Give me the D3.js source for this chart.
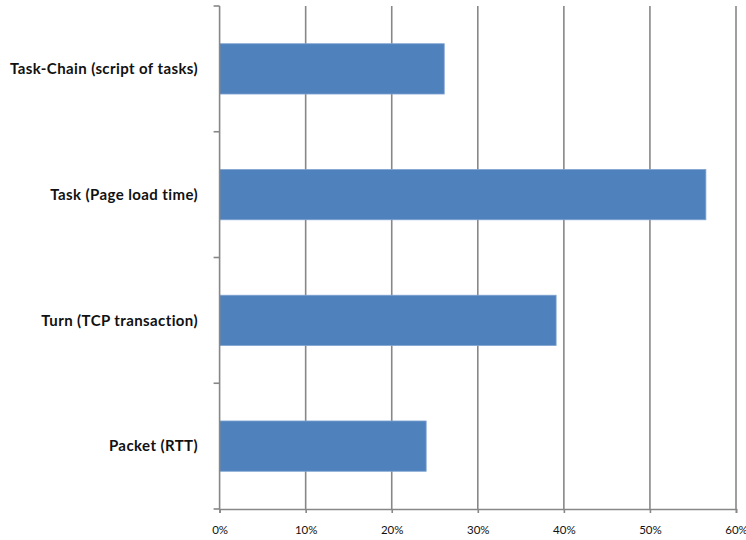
<!DOCTYPE html>
<html>
<head>
<meta charset="utf-8">
<script src="https://cdn.jsdelivr.net/npm/d3@7"></script>
<style>
  html, body { margin: 0; padding: 0; background: #fff; }
  svg { display: block; }
</style>
</head>
<body>
<svg id="chart" width="746" height="540"></svg>
<script>
// categories listed top to bottom, as drawn
const categories = [
  "Task-Chain (script of tasks)",
  "Task (Page load time)",
  "Turn (TCP transaction)",
  "Packet (RTT)"
];
const shares = [0.261, 0.565, 0.391, 0.240];
const xTicks = [0, 0.1, 0.2, 0.3, 0.4, 0.5, 0.6];

const margin = { top: 6, right: 10, bottom: 31, left: 219.6 };
const width = 746;
const height = 540;
const gridColor = "#878787";

const svg = d3.select("#chart");

const x = d3.scaleLinear()
  .domain([0, 0.6])
  .range([margin.left, width - margin.right]);

const y = d3.scaleBand()
  .domain(categories)
  .range([margin.top, height - margin.bottom])
  .paddingInner(0.6)
  .paddingOuter(0.3);

// band edges for the y axis ticks (Excel style ticks between categories)
const yEdge = d3.scaleLinear()
  .domain([0, categories.length])
  .range([margin.top, height - margin.bottom]);

// vertical gridlines
svg.append("g")
  .selectAll("line.grid")
  .data(xTicks.slice(1))
  .enter()
  .append("line")
  .attr("class", "grid")
  .attr("x1", d => x(d))
  .attr("x2", d => x(d))
  .attr("y1", margin.top)
  .attr("y2", height - margin.bottom)
  .attr("stroke", gridColor)
  .attr("stroke-width", 1.6);

// bars
svg.append("g")
  .selectAll("rect")
  .data(categories)
  .enter()
  .append("rect")
  .attr("x", x(0))
  .attr("y", d => y(d))
  .attr("width", (d, i) => x(shares[i]) - x(0))
  .attr("height", y.bandwidth())
  .attr("fill", "#4F81BD")
  .attr("stroke", "#7FA3D2")
  .attr("stroke-width", 0.8);

// x axis
const xAxis = svg.append("g")
  .attr("transform", `translate(0, ${height - margin.bottom})`)
  .call(d3.axisBottom(x)
    .tickValues(xTicks)
    .tickFormat(d3.format(".0%"))
    .tickSize(4)
    .tickPadding(13));

xAxis.select(".domain").attr("stroke", gridColor).attr("stroke-width", 1.6);
xAxis.selectAll(".tick line").attr("stroke", gridColor).attr("stroke-width", 1.6);
xAxis.selectAll(".tick text")
  .attr("font-family", "Lato, 'Open Sans', sans-serif")
  .attr("font-size", 11.5)
  .attr("fill", "#111");

// y axis line
svg.append("line")
  .attr("x1", x(0))
  .attr("x2", x(0))
  .attr("y1", margin.top)
  .attr("y2", height - margin.bottom)
  .attr("stroke", gridColor)
  .attr("stroke-width", 1.6);

// y ticks at band edges
svg.append("g")
  .selectAll("line.ytick")
  .data(d3.range(categories.length + 1))
  .enter()
  .append("line")
  .attr("class", "ytick")
  .attr("x1", x(0) - 6)
  .attr("x2", x(0))
  .attr("y1", d => yEdge(d))
  .attr("y2", d => yEdge(d))
  .attr("stroke", gridColor)
  .attr("stroke-width", 1.6);

// category labels
svg.append("g")
  .selectAll("text.cat")
  .data(categories)
  .enter()
  .append("text")
  .attr("class", "cat")
  .attr("x", 198)
  .attr("y", d => y(d) + y.bandwidth() / 2)
  .attr("dy", "0.35em")
  .attr("text-anchor", "end")
  .attr("font-family", "Lato, 'Open Sans', sans-serif")
  .attr("font-weight", "bold")
  .attr("font-size", 15)
  .attr("letter-spacing", 0.4)
  .attr("fill", "#111")
  .text(d => d);
</script>
</body>
</html>
